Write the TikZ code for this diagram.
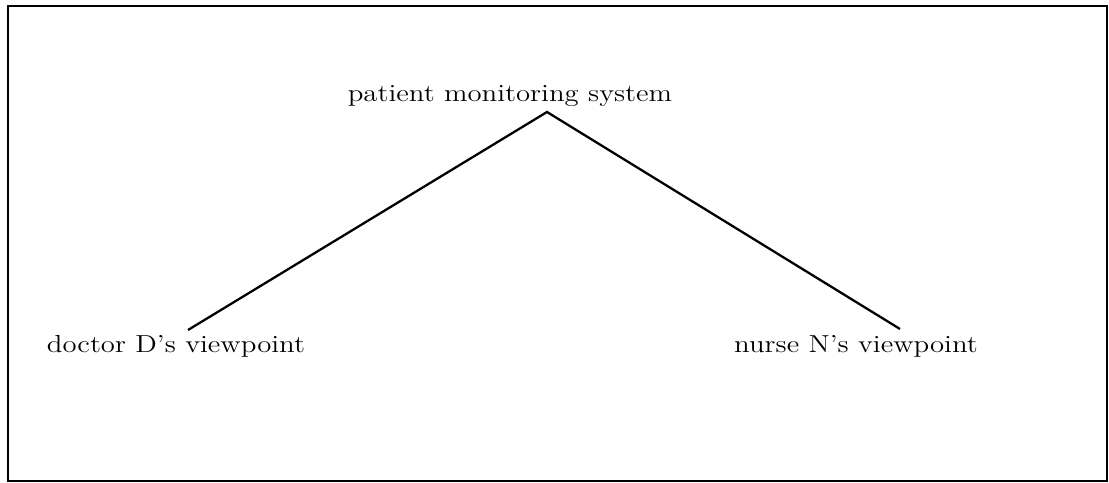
\documentclass[tikz,border=0pt]{standalone}
\usetikzlibrary{positioning, calc}

\begin{document}
\begin{tikzpicture}[
			x=0.02cm, y=-0.02cm,
			label/.style={inner sep=0pt, anchor=base, font=\fontsize{14}{17}\selectfont},
			branch/.style={line width=1.3pt},
			frame/.style={line width=1.6pt}
			]
			
			% --- marco ---
			\useasboundingbox (0,0) rectangle (1109,483);
			\draw[frame] (8,6) rectangle (1107,481);
			
			% --- nodos ---
			\node[label] (system) at (510,102) {\scalebox{1.17}[1]{patient monitoring system}};
			\node[label] (doctor) at (176,352) {\scalebox{1.17}[1]{doctor D's viewpoint}};
			\node[label] (nurse) at (856,352) {\scalebox{1.17}[1]{nurse N's viewpoint}};
			
			% puntos de union
			\coordinate (apex) at (547,112);
			\coordinate (doctor-end) at (188,330);
			\coordinate (nurse-end) at (900,329);
			
			% --- ramas ---
			\draw[branch] (doctor-end) -- (apex) -- (nurse-end);
			
		\end{tikzpicture}
\end{document}
